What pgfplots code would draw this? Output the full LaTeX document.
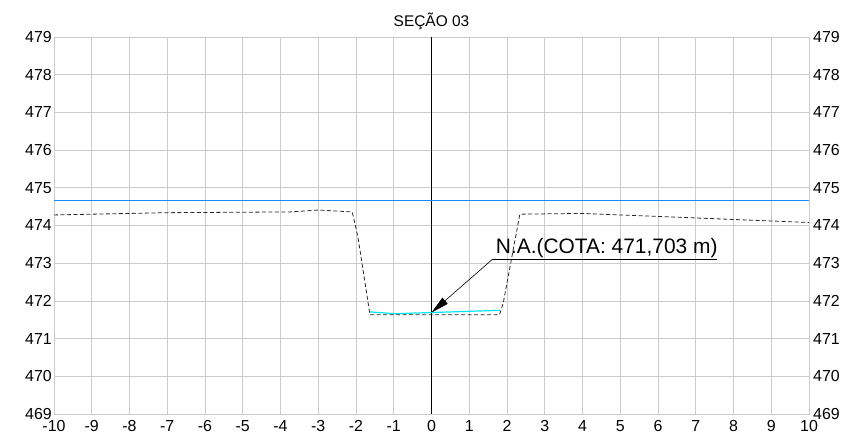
\documentclass[border=0pt]{standalone}
\usepackage{fontspec}
\setmainfont{Liberation Sans}
\usepackage{pgfplots}
\pgfplotsset{compat=1.18}
\usetikzlibrary{arrows.meta}
\definecolor{gridc}{RGB}{204,204,204}
\definecolor{nablue}{RGB}{25,135,245}
\definecolor{wcyan}{RGB}{0,230,240}
\begin{document}
\begin{tikzpicture}
\begin{axis}[
 scale only axis, width=755bp, height=377bp,
 xmin=-10,xmax=10,ymin=469,ymax=479,
 xtick={-10,...,10}, ytick={469,...,479},
 grid=major, grid style={gridc, line width=0.8pt},
 axis line style={gridc, line width=0.8pt},
 major tick length=0pt,
 tick label style={font=\fontsize{16}{16}\selectfont},
 /pgf/number format/assume math mode=true,
 xticklabel style={anchor=north, inner sep=0pt, yshift=-6bp},
 yticklabel style={anchor=east, inner sep=0pt, xshift=-2bp},
 clip=true,
]
\coordinate (bl) at (rel axis cs:0,0);
\coordinate (tr) at (rel axis cs:1,1);
\coordinate (tc) at (rel axis cs:0.5,1);
\addplot[black, line width=0.8pt] coordinates {(0,469) (0,479)};
\addplot[nablue, line width=1.2pt] coordinates {(-10,474.66) (10,474.66)};
\addplot[wcyan, line width=1.2pt] coordinates {(-1.65,471.71) (-0.97,471.66) (1.81,471.75)};
\addplot[black!85, line width=0.8pt, dash pattern=on 4bp off 2.5bp] coordinates {
(-10,474.28) (-7,474.34) (-3.75,474.36) (-3.0,474.41) (-2.1,474.36) (-1.95,473.70)
(-1.63,471.63) (1.80,471.63) (1.90,471.94) (2.34,474.30) (4.0,474.32) (10,474.08)};
\draw[line width=0.6pt] (axis cs:1.61,473.10) -- (axis cs:7.55,473.10);
\draw[line width=0.6pt, -{Triangle[length=18bp,width=8bp]}] (axis cs:1.61,473.10) -- (axis cs:0,471.69);
\node[font=\fontsize{21}{21}\selectfont, anchor=base west, inner sep=0pt] at (axis cs:1.70,473.10) [yshift=5.5bp] {N.A.(COTA: 471,703 m)};
\end{axis}
\begin{axis}[
 scale only axis, width=755bp, height=377bp,
 xmin=-10,xmax=10,ymin=469,ymax=479,
 hide x axis,
 axis y line*=right,
 ytick={469,...,479},
 axis line style={gridc, line width=0.8pt},
 major tick length=0pt,
 tick label style={font=\fontsize{16}{16}\selectfont},
 /pgf/number format/assume math mode=true,
 yticklabel style={anchor=west, inner sep=0pt, xshift=4bp},
]
\end{axis}
\node[font=\fontsize{15.5}{15.5}\selectfont, anchor=base, inner sep=0pt] at ([yshift=10.3bp]tc) {SEÇÃO 03};
\pgfresetboundingbox
\path[use as bounding box] ([xshift=-54bp,yshift=-19bp]bl) rectangle ([xshift=34bp,yshift=37bp]tr);
\end{tikzpicture}
\end{document}
